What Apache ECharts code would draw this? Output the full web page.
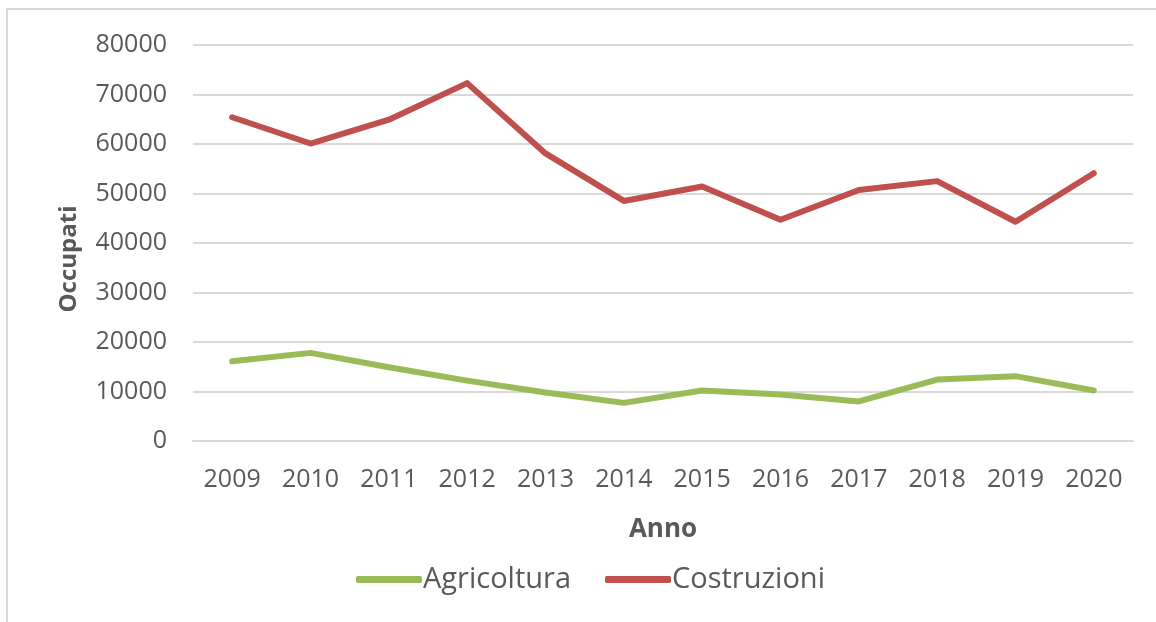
<!DOCTYPE html>
<html>
<head>
<meta charset="utf-8">
<script src="https://cdn.jsdelivr.net/npm/echarts@6/dist/echarts.min.js"></script>
<style>
html,body{margin:0;padding:0;background:#fff;}
#wrap{position:absolute;left:0;top:0;width:1156px;height:622px;}
#frame{position:absolute;left:6px;top:8px;width:1150px;height:614px;border-top:2px solid #d9d9d9;border-left:2px solid #d9d9d9;box-sizing:border-box;}
#chart{position:absolute;left:0;top:0;width:1156px;height:622px;}
</style>
</head>
<body>
<div id="wrap"><div id="frame"></div><div id="chart"></div></div>
<script>
const years = ['2009','2010','2011','2012','2013','2014','2015','2016','2017','2018','2019','2020'];
const agricoltura = [16100, 17800, 14900, 12200, 9800, 7700, 10200, 9400, 8000, 12400, 13100, 10200];
const costruzioni = [65400, 60100, 64900, 72300, 58100, 48500, 51400, 44700, 50700, 52500, 44300, 54100];
const seriesNames = ['Agricoltura', 'Costruzioni'];
const colors = ['#9bbb59', '#c0504d'];

const chart = echarts.init(document.getElementById('chart'), null, {renderer: 'canvas'});
const font = '"Open Sans", sans-serif';
chart.setOption({
  backgroundColor: 'transparent',
  animation: false,
  grid: {left: 193, right: 23, top: 45, bottom: 181},
  legend: {
    data: seriesNames,
    left: 351, top: 560,
    icon: 'roundRect',
    itemWidth: 66, itemHeight: 7,
    itemGap: 34,
    textStyle: {fontFamily: font, fontSize: 29, color: '#595959', padding: [0, 0, 0, -4]}
  },
  xAxis: {
    type: 'category',
    data: years,
    boundaryGap: true,
    name: 'Anno',
    nameLocation: 'middle',
    nameGap: 76,
    nameTextStyle: {fontFamily: font, fontSize: 26, fontWeight: 'bold', color: '#595959'},
    axisLine: {show: true, lineStyle: {color: '#d9d9d9', width: 2}},
    axisTick: {show: false},
    axisLabel: {fontFamily: font, fontSize: 25, color: '#595959', margin: 26}
  },
  yAxis: {
    type: 'value',
    min: 0, max: 80000, interval: 10000,
    name: 'Occupati',
    nameLocation: 'middle',
    nameGap: 112,
    nameTextStyle: {fontFamily: font, fontSize: 24, fontWeight: 'bold', color: '#595959', padding: [0, 32, 0, 0]},
    axisLine: {show: false},
    axisTick: {show: false},
    axisLabel: {fontFamily: font, fontSize: 25, color: '#595959', margin: 26, formatter: function (v) { return String(v); }},
    splitLine: {lineStyle: {color: '#d9d9d9', width: 2}}
  },
  series: [
    {name: seriesNames[0], type: 'line', data: agricoltura, showSymbol: false, symbol: 'none',
     lineStyle: {color: colors[0], width: 6, cap: 'round', join: 'round'}, itemStyle: {color: colors[0]}},
    {name: seriesNames[1], type: 'line', data: costruzioni, showSymbol: false, symbol: 'none',
     lineStyle: {color: colors[1], width: 6, cap: 'round', join: 'round'}, itemStyle: {color: colors[1]}}
  ]
});
</script>
</body>
</html>
